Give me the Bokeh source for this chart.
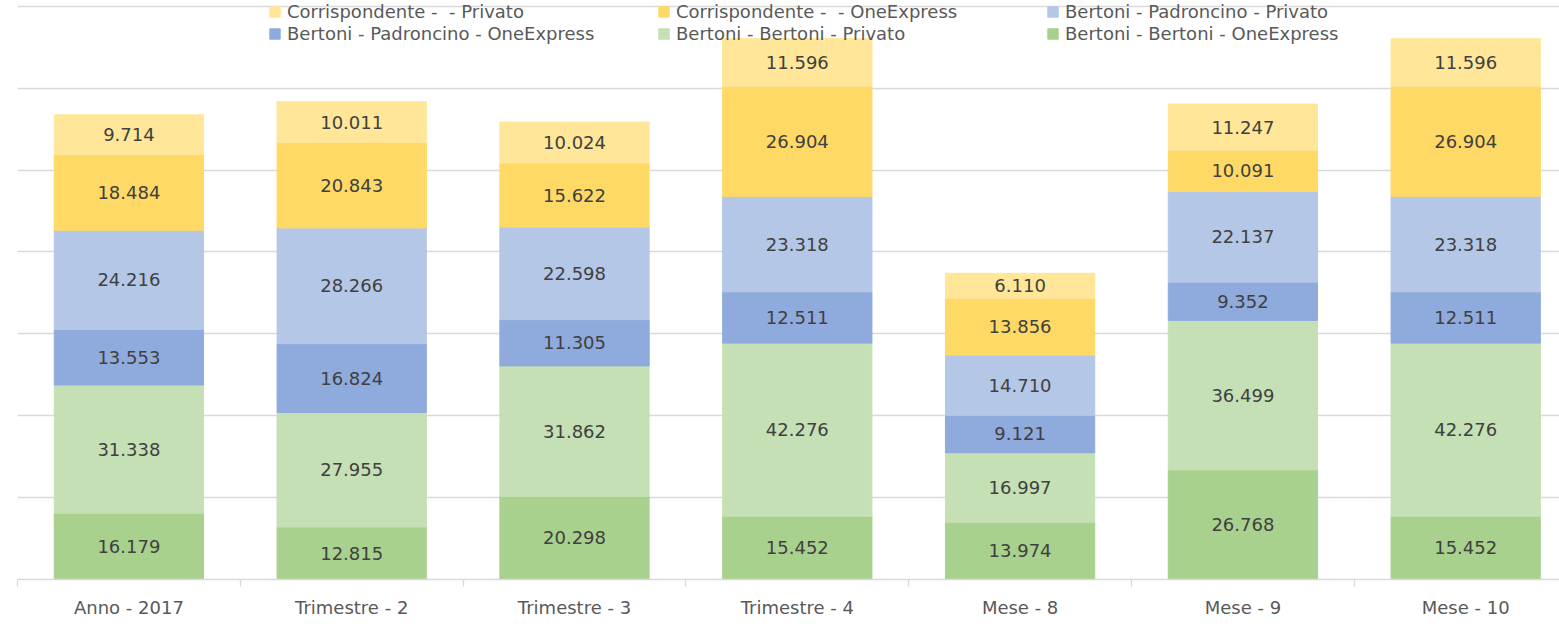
from bokeh.plotting import figure
from bokeh.models import ColumnDataSource, Range1d, FixedTicker, LabelSet, Legend, LegendItem
from bokeh.core.properties import value
from bokeh.embed import file_html
from bokeh.resources import INLINE

categories = ["Anno - 2017", "Trimestre - 2", "Trimestre - 3", "Trimestre - 4",
              "Mese - 8", "Mese - 9", "Mese - 10"]

bertoni_bertoni_oneexpress = [16179, 12815, 20298, 15452, 13974, 26768, 15452]
bertoni_bertoni_privato = [31338, 27955, 31862, 42276, 16997, 36499, 42276]
bertoni_padroncino_oneexpress = [13553, 16824, 11305, 12511, 9121, 9352, 12511]
bertoni_padroncino_privato = [24216, 28266, 22598, 23318, 14710, 22137, 23318]
corrispondente_oneexpress = [18484, 20843, 15622, 26904, 13856, 10091, 26904]
corrispondente_privato = [9714, 10011, 10024, 11596, 6110, 11247, 11596]

series_keys = ["bb_one", "bb_priv", "bp_one", "bp_priv", "c_one", "c_priv"]
series_values = [bertoni_bertoni_oneexpress, bertoni_bertoni_privato,
                 bertoni_padroncino_oneexpress, bertoni_padroncino_privato,
                 corrispondente_oneexpress, corrispondente_privato]
series_names = ["Bertoni - Bertoni - OneExpress", "Bertoni - Bertoni - Privato",
                "Bertoni - Padroncino - OneExpress", "Bertoni - Padroncino - Privato",
                "Corrispondente -  - OneExpress", "Corrispondente -  - Privato"]
colors = ["#A9D18E", "#C5E0B4", "#8FAADC", "#B4C7E7", "#FFD966", "#FFE699"]

y_ticks = [0, 20000, 40000, 60000, 80000, 100000, 120000, 140000]

FONT = "DejaVu Sans"

xs = list(range(len(categories)))
data = {"x": xs}
for k, v in zip(series_keys, series_values):
    data[k] = v
src = ColumnDataSource(data)

p = figure(width=1559, height=628,
           x_range=Range1d(-0.5, -0.5 + 1542 / 222.8),
           y_range=Range1d(0, 141392),
           output_backend="svg", toolbar_location=None,
           min_border_left=17, min_border_right=0,
           min_border_top=0, min_border_bottom=49)
p.outline_line_color = None
p.background_fill_color = "white"
p.border_fill_color = "white"

renderers = p.vbar_stack(series_keys, x="x", width=0.67, color=colors, source=src)

# labels
lx, ly, lt = [], [], []
for i in xs:
    base = 0
    for v in series_values:
        val = v[i]
        lx.append(i)
        ly.append(base + val / 2)
        lt.append(f"{val:,}".replace(",", "."))
        base += val
lab_src = ColumnDataSource(dict(x=lx, y=ly, text=lt))
labels = LabelSet(x="x", y="y", text="text", source=lab_src,
                  text_align="center", text_baseline="middle",
                  text_color="#404040", text_font_size="18px",
                  text_font=value(FONT))
p.add_layout(labels)

# axes and grid
p.yaxis.visible = False
p.xgrid.visible = False
p.ygrid.ticker = FixedTicker(ticks=y_ticks)
p.ygrid.grid_line_color = "#D9D9D9"
p.ygrid.grid_line_width = 1.3

p.xaxis.ticker = FixedTicker(ticks=xs, minor_ticks=[i - 0.5 for i in range(len(categories) + 1)])
p.xaxis.major_label_overrides = {i: c for i, c in zip(xs, categories)}
p.xaxis.major_tick_out = 0
p.xaxis.major_tick_in = 0
p.xaxis.minor_tick_out = 7
p.xaxis.minor_tick_in = 0
p.xaxis.minor_tick_line_color = "#D9D9D9"
p.xaxis.minor_tick_line_width = 1.3
p.xaxis.axis_line_color = "#D9D9D9"
p.xaxis.axis_line_width = 1.5
p.xaxis.major_label_standoff = 10
p.xaxis.major_label_text_font = FONT
p.xaxis.major_label_text_font_size = "18px"
p.xaxis.major_label_text_color = "#595959"

# legend (reverse of stacking order)
items = [LegendItem(label=series_names[j], renderers=[renderers[j]]) for j in [5, 4, 3, 2, 1, 0]]
legend = Legend(items=items, location=(251, 535), orientation="horizontal", ncols=3,
                glyph_width=13, glyph_height=13, label_standoff=6, label_width=369,
                spacing=1, padding=0, margin=0,
                border_line_alpha=0, background_fill_alpha=0,
                label_text_font=FONT, label_text_font_size="18px",
                label_text_color="#595959")
p.add_layout(legend)

open("out.html", "w").write(file_html(p, INLINE))
